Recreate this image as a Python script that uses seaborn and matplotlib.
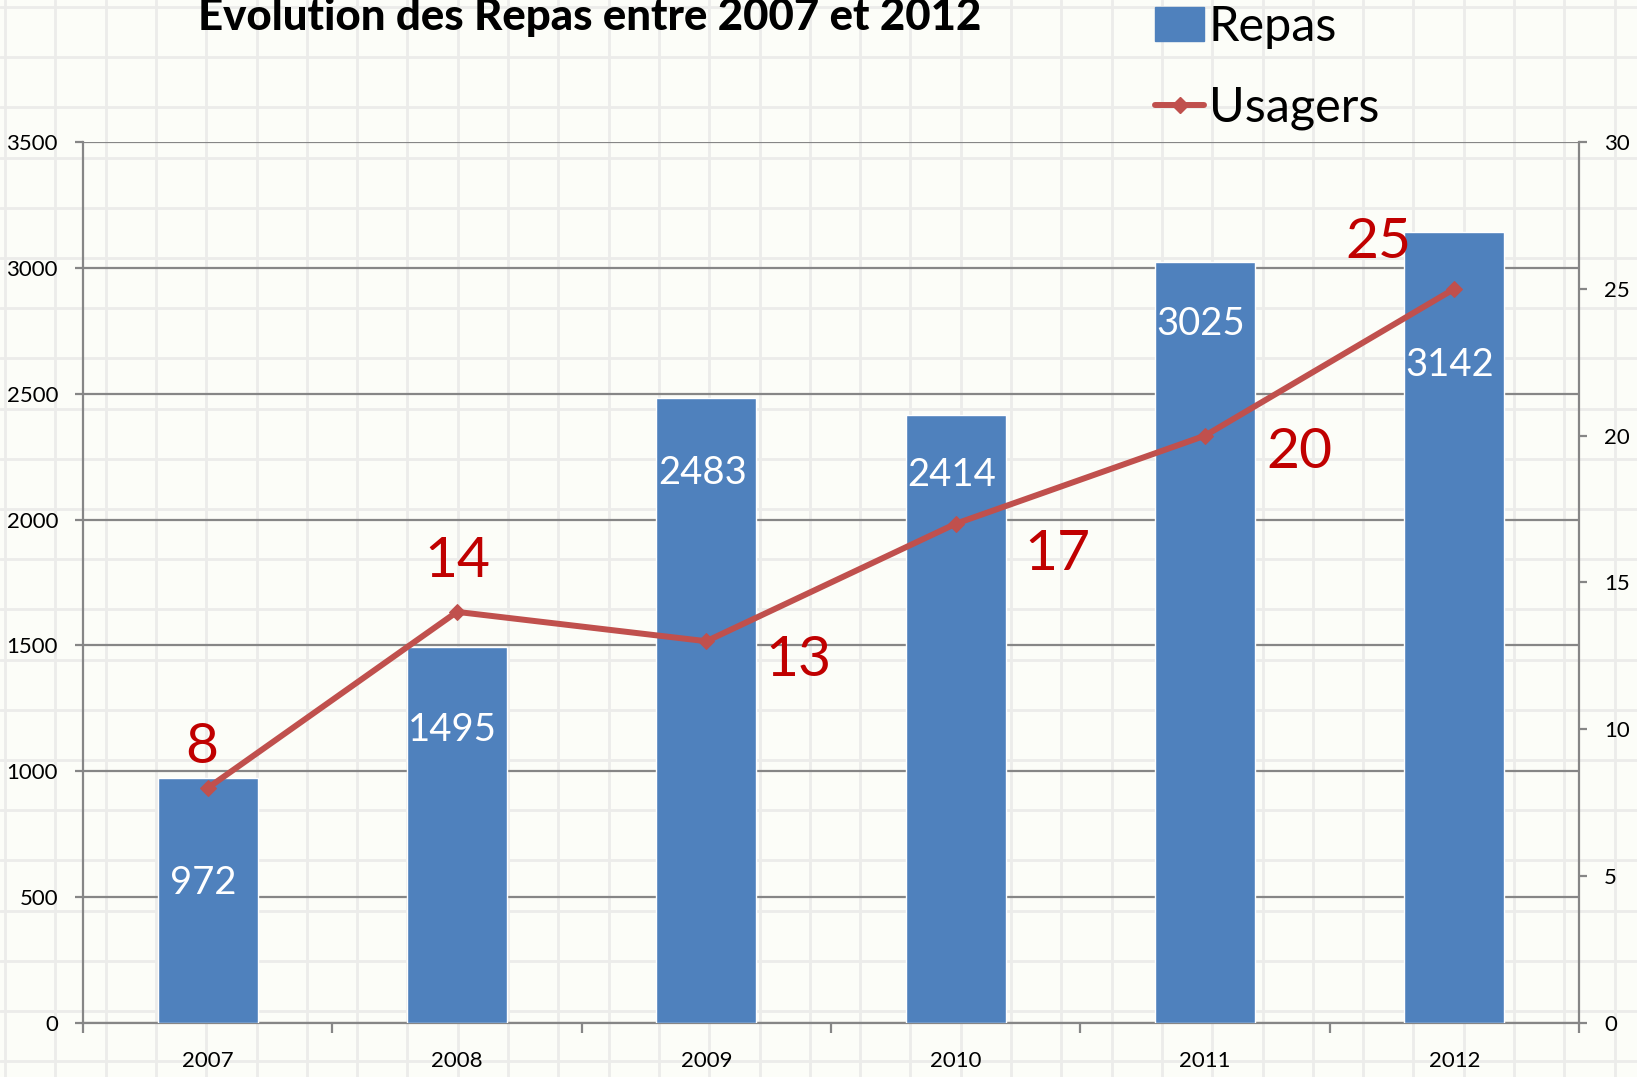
import matplotlib.pyplot as plt
import matplotlib.lines as mlines
import matplotlib.patches as mpatches
import numpy as np
import seaborn as sns

# Data
years = ["2007", "2008", "2009", "2010", "2011", "2012"]
repas = [972, 1495, 2483, 2414, 3025, 3142]
usagers = [8, 14, 13, 17, 20, 25]

# label offsets (points) - hand tuned to follow the original placement
repas_label_drop = [75, 60, 54, 43, 45, 96]
usagers_label_offset = [(-4, 29), (0, 36), (66, -14), (73, -22), (68, -12), (-55, 33)]

BAR = "#4F81BD"
LINE = "#C0504D"
LABEL_RED = "#C00000"
AXIS_GREY = "#868686"

sns.set_style("white")
plt.rcParams["font.family"] = ["Lato", "DejaVu Sans"]
plt.rcParams["text.color"] = "black"

W, H = 1637, 1077
fig = plt.figure(figsize=(W / 100, H / 100), dpi=100)
fig.patch.set_facecolor("#fcfdf8")

# spreadsheet cell grid behind the chart
bg = fig.add_axes([0, 0, 1, 1], zorder=0)
bg.set_xlim(0, W)
bg.set_ylim(H, 0)
bg.set_facecolor("#fcfdf8")
for gx in np.arange(5, W, 50.3):
    bg.axvline(gx, color="#ececea", lw=2.0, zorder=0)
for gy in np.arange(7, H, 50.2):
    bg.axhline(gy, color="#ececea", lw=2.0, zorder=0)
bg.axis("off")

left, right, top, bottom = 83, 1579, 142, 1023
ax = fig.add_axes([left / W, 1 - bottom / H, (right - left) / W, (bottom - top) / H], zorder=1)
ax.patch.set_alpha(0)

sns.barplot(x=years, y=repas, color=BAR, saturation=1, width=0.4, ax=ax, zorder=3)
ax.set_xlim(-0.5, len(years) - 0.5)
ax.set_ylim(0, 3500)
ax.set_yticks(np.arange(0, 3501, 500))
ax.yaxis.grid(True, color=AXIS_GREY, lw=1.6)
ax.set_axisbelow(True)
ax.set_xlabel("")
ax.set_ylabel("")

for i, (v, d) in enumerate(zip(repas, repas_label_drop)):
    ax.annotate(str(v), (i, v), xytext=(-3, -d), textcoords="offset points",
                ha="center", va="center", color="white", fontsize=27.5, zorder=5)

ax2 = ax.twinx()
ax2.patch.set_alpha(0)
xs = np.arange(len(years))
sns.lineplot(x=xs, y=usagers, color=LINE, lw=4.3, marker="D", markersize=8,
             markeredgecolor=LINE, ax=ax2)
ax2.set_ylim(0, 30)
ax2.set_yticks(np.arange(0, 31, 5))
ax2.set_xlim(-0.5, len(years) - 0.5)
for i, (v, (dx, dy)) in enumerate(zip(usagers, usagers_label_offset)):
    ax2.annotate(str(v), (i, v), xytext=(dx, dy), textcoords="offset points",
                 ha="center", va="center", color=LABEL_RED, fontsize=41)

# axes styling
for a in (ax, ax2):
    for s in a.spines.values():
        s.set_color(AXIS_GREY)
        s.set_linewidth(1.6)
    a.spines["top"].set_visible(False)
ax.spines["right"].set_visible(False)
ax2.spines["left"].set_visible(False)
ax2.spines["bottom"].set_visible(False)

ax.tick_params(axis="y", direction="out", length=6, width=1.6, color=AXIS_GREY,
               labelcolor="black", labelsize=16, pad=12, left=True)
ax2.tick_params(axis="y", direction="out", length=6, width=1.6, color=AXIS_GREY,
                labelcolor="black", labelsize=16, pad=12, right=True)
ax.set_xticks(xs)
ax.set_xticklabels(years)
ax.set_xticks(np.arange(-0.5, len(years)), minor=True)
ax.tick_params(axis="x", which="major", length=0, labelsize=16, pad=20, labelcolor="black")
ax.tick_params(axis="x", which="minor", direction="out", length=7, width=1.6,
               color=AXIS_GREY, bottom=True)

fig.text(590 / W, 1 - 30 / H, "Evolution des Repas entre 2007 et 2012",
         ha="center", va="baseline", fontsize=31.5, fontweight="black", color="black")

handles = [mpatches.Patch(color=BAR, label="Repas"),
           mlines.Line2D([], [], color=LINE, lw=4.3, marker="D", markersize=8, label="Usagers")]
fig.legend(handles=handles, loc="upper left", bbox_to_anchor=(1136 / W, 1 + 14 / H),
           frameon=False, fontsize=35, handlelength=1.0, handletextpad=0.1,
           labelspacing=0.75, borderaxespad=0, labelcolor="black")

fig.savefig("out.png", dpi=100, facecolor=fig.get_facecolor())
